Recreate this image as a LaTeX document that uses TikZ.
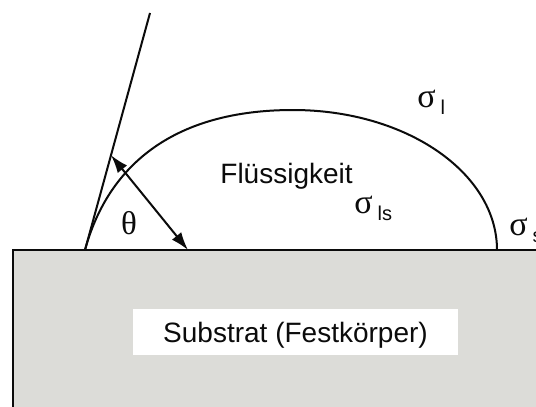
\documentclass[tikz,border=0pt]{standalone}
\usepackage{fontspec}
\setmainfont{Liberation Sans}
\newfontfamily\greekfont{Liberation Serif}
\usetikzlibrary{arrows.meta,calc}
\definecolor{substrat}{HTML}{DCDCD8}
\definecolor{ink}{HTML}{0B0B0B}
\newcommand{\sigmasub}[1]{{\greekfont σ}\hspace{2.5pt}\raisebox{-3.5pt}{\fontsize{10}{12}\selectfont #1}}
\tikzset{
  lbl/.style={font=\fontsize{14}{16}\selectfont,inner sep=0pt,text=ink},
  sig/.style={font=\fontsize{17}{19}\selectfont,inner sep=0pt,text=ink},
  kontur/.style={draw=ink,line width=1pt},
}

\begin{document}
\begin{tikzpicture}[x=0.5pt,y=-0.5pt]
  \useasboundingbox (0,0) rectangle (536,407);
  % Substrat
  \fill[white] (0,0) rectangle (536,407);
  \draw[ink,line width=0.7pt,fill=substrat] (13,250) rectangle (560,430);
  \node[fill=white,minimum width=162.5pt,minimum height=23pt,text height=10pt,
        text depth=0pt,lbl] (sub) at (295.5,332) {Substrat (Festkörper)};
  % Tropfen
  \coordinate (kl) at (85,250);
  \coordinate (top) at (293,110);
  \coordinate (kr) at (497,250);
  \coordinate (tg) at (150,13);
  \draw[kontur] (kl) .. controls (108.8,163.2) and (176,110) .. (top)
                     .. controls (406,110) and (497,172.7) .. (kr);
  \draw[kontur] (kl) -- (tg);
  \coordinate (th1) at ($(kl)!0.4!(tg)$);
  \coordinate (th2) at (188,250);
  \draw[kontur,{Latex[length=9pt,width=6pt]}-{Latex[length=9pt,width=6pt]}] (th1) -- (th2);
  \node[sig,font=\fontsize{16.5}{18}\greekfont] (theta) at (129,223) {θ};
  \node[lbl,anchor=base west] (fl) at (220,183) {Flüssigkeit};
  \node[sig,anchor=base west] (sl) at (417,107) {\sigmasub{l}};
  \node[sig,anchor=base west] (sls) at (354,213) {\sigmasub{ls}};
  \node[sig,anchor=base west] (ss) at (509,235) {\sigmasub{s}};
\end{tikzpicture}
\end{document}
